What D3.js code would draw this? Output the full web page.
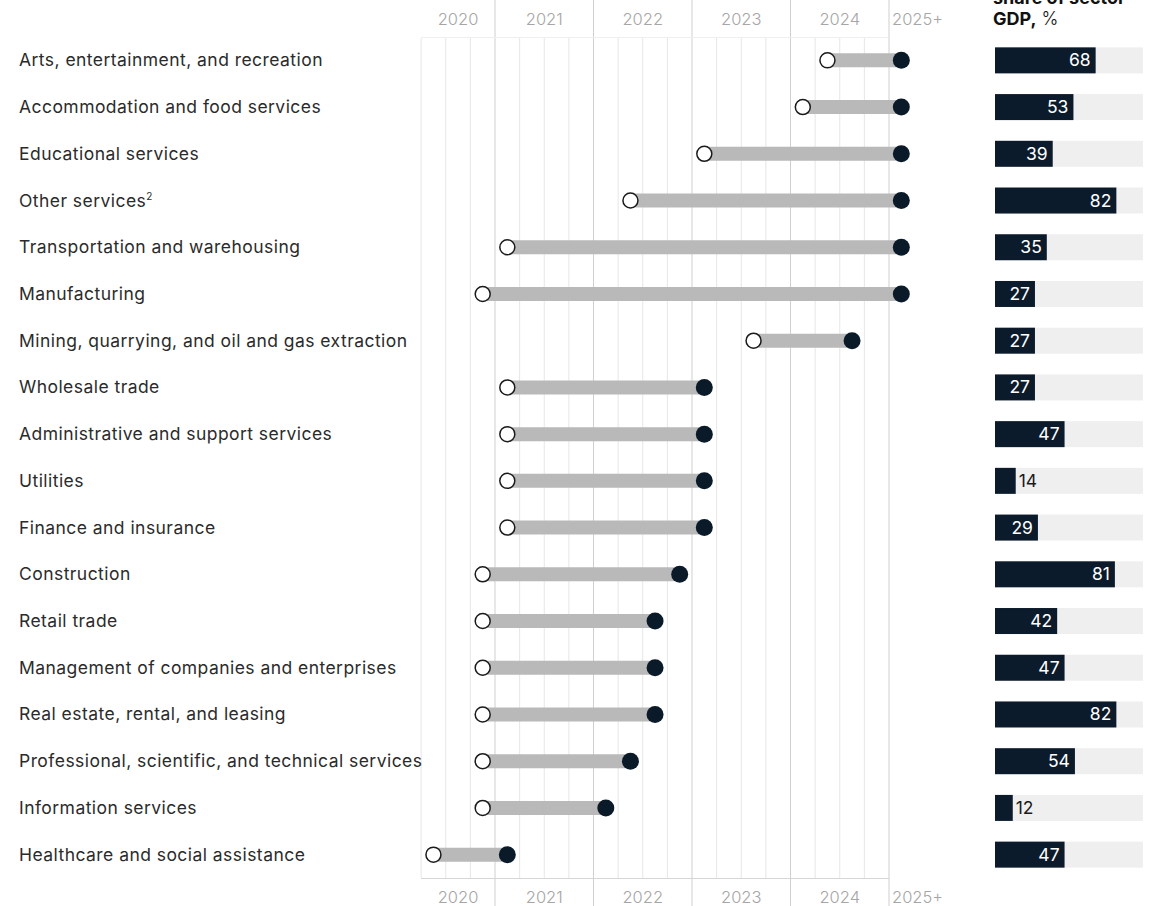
<!DOCTYPE html>
<html>
<head>
<meta charset="utf-8">
<script src="https://cdn.jsdelivr.net/npm/d3@7"></script>
<style>
  html, body { margin: 0; padding: 0; background: #fff; }
  svg { display: block; }
  text { font-family: Inter, "Liberation Sans", Arial, sans-serif; }
</style>
</head>
<body>
<svg id="chart" width="1171" height="906"></svg>
<script>
// ---- data ----
const sectors = [
  "Arts, entertainment, and recreation",
  "Accommodation and food services",
  "Educational services",
  "Other services",
  "Transportation and warehousing",
  "Manufacturing",
  "Mining, quarrying, and oil and gas extraction",
  "Wholesale trade",
  "Administrative and support services",
  "Utilities",
  "Finance and insurance",
  "Construction",
  "Retail trade",
  "Management of companies and enterprises",
  "Real estate, rental, and leasing",
  "Professional, scientific, and technical services",
  "Information services",
  "Healthcare and social assistance"
];
const footnotes = ["", "", "", "2", "", "", "", "", "", "", "", "", "", "", "", "", "", ""];
// start / end quarter; 2025Q1 stands for "2025+"
const startQuarter = [
  "2024Q2", "2024Q1", "2023Q1", "2022Q2", "2021Q1", "2020Q4", "2023Q3", "2021Q1", "2021Q1",
  "2021Q1", "2021Q1", "2020Q4", "2020Q4", "2020Q4", "2020Q4", "2020Q4", "2020Q4", "2020Q2"
];
const endQuarter = [
  "2025Q1", "2025Q1", "2025Q1", "2025Q1", "2025Q1", "2025Q1", "2024Q3", "2023Q1", "2023Q1",
  "2023Q1", "2023Q1", "2022Q4", "2022Q3", "2022Q3", "2022Q3", "2022Q2", "2022Q1", "2021Q1"
];
const gdpShare = [68, 53, 39, 82, 35, 27, 27, 27, 47, 14, 29, 81, 42, 47, 82, 54, 12, 47];
const yearLabels = ["2020", "2021", "2022", "2023", "2024", "2025+"];
const yearStarts = [2020.25, 2021, 2022, 2023, 2024, 2025];
const yearEnds = [2021, 2022, 2023, 2024, 2025, 2025.72];

// ---- layout ----
const svg = d3.select("#chart");
const W = 1171, H = 906;
const x = d3.scaleLinear().domain([2020, 2025]).range([396.5, 889]);
const y = d3.scaleBand().domain(sectors).range([37, 878]).paddingInner(0);
const cy = d => y(d) + y.bandwidth() / 2;
const barX = d3.scaleLinear().domain([0, 100]).range([995, 1143]);

const qVal = s => +s.slice(0, 4) + (+s.slice(5) - 1) / 4 + 0.125;

// grid: quarter lines
const quarterTicks = d3.range(2020.25, 2025.001, 0.25).filter(v => v % 1 !== 0);
svg.append("g").selectAll("line").data(quarterTicks).join("line")
  .attr("x1", d => x(d)).attr("x2", d => x(d))
  .attr("y1", 38).attr("y2", 878)
  .attr("stroke", "#e6e6e6").attr("stroke-width", 1);

// year lines
const yearTicks = [2021, 2022, 2023, 2024, 2025];
svg.append("g").selectAll("line").data(yearTicks).join("line")
  .attr("x1", d => x(d)).attr("x2", d => x(d))
  .attr("y1", 0).attr("y2", H)
  .attr("stroke", "#cfcfcf").attr("stroke-width", 1);

// top and bottom rules
svg.append("line").attr("x1", x(2020.25)).attr("x2", x(2025)).attr("y1", 37.5).attr("y2", 37.5)
  .attr("stroke", "#efefef");
svg.append("line").attr("x1", x(2020.25)).attr("x2", x(2025)).attr("y1", 878.5).attr("y2", 878.5)
  .attr("stroke", "#d6d6d6");

// year labels (top and bottom)
[25, 903].forEach(yy => {
  svg.append("g").selectAll("text").data(yearLabels).join("text")
    .attr("x", (d, i) => i === 5 ? x(2025) + 3 : x((yearStarts[i] + yearEnds[i]) / 2))
    .attr("y", yy)
    .attr("text-anchor", (d, i) => i === 5 ? "start" : "middle")
    .attr("font-size", 16.5)
    .attr("font-weight", 300)
    .attr("fill", "#a6a6a6")
    .text(d => d);
});

// row labels
const lab = svg.append("g").selectAll("text").data(sectors).join("text")
  .attr("x", 19).attr("y", d => cy(d) + 6)
  .attr("font-size", 17.5).attr("font-weight", 400).attr("fill", "#2b2b2b")
  .attr("letter-spacing", 0.45);
lab.append("tspan").text(d => d);
lab.append("tspan").attr("font-size", 10).attr("dy", -7).text((d, i) => footnotes[i]);

// range segments
const rows = sectors.map((s, i) => ({ s, a: qVal(startQuarter[i]), b: qVal(endQuarter[i]), v: gdpShare[i] }));
svg.append("g").selectAll("line").data(rows).join("line")
  .attr("x1", d => x(d.a)).attr("x2", d => x(d.b))
  .attr("y1", d => cy(d.s)).attr("y2", d => cy(d.s))
  .attr("stroke", "#b9b9b9").attr("stroke-width", 14);

svg.append("g").selectAll("circle").data(rows).join("circle")
  .attr("cx", d => x(d.b)).attr("cy", d => cy(d.s)).attr("r", 8.5)
  .attr("fill", "#0b1a29");
svg.append("g").selectAll("circle").data(rows).join("circle")
  .attr("cx", d => x(d.a)).attr("cy", d => cy(d.s)).attr("r", 7.5)
  .attr("fill", "#fff").attr("stroke", "#1a1a1a").attr("stroke-width", 1.5);

// right header
const hdr = svg.append("g");
hdr.append("text").attr("x", 993).attr("y", 4).attr("font-size", 18).attr("font-weight", "bold")
  .attr("fill", "#111").text("share of sector");
const h2 = hdr.append("text").attr("x", 993).attr("y", 25).attr("font-size", 18).attr("fill", "#111");
h2.append("tspan").attr("font-weight", "bold").text("GDP,");
h2.append("tspan").attr("font-weight", 300).text(" %");

// share bars
const bh = 26;
svg.append("g").selectAll("rect").data(rows).join("rect")
  .attr("x", barX(0)).attr("y", d => cy(d.s) - bh / 2)
  .attr("width", barX(100) - barX(0)).attr("height", bh)
  .attr("fill", "#efefef");
svg.append("g").selectAll("rect").data(rows).join("rect")
  .attr("x", barX(0)).attr("y", d => cy(d.s) - bh / 2)
  .attr("width", d => barX(d.v) - barX(0)).attr("height", bh)
  .attr("fill", "#0c1b2b");
svg.append("g").selectAll("text").data(rows).join("text")
  .attr("x", d => d.v < 20 ? barX(d.v) + 3 : barX(d.v) - 5)
  .attr("y", d => cy(d.s) + 6)
  .attr("text-anchor", d => d.v < 20 ? "start" : "end")
  .attr("font-size", 17.5)
  .attr("fill", d => d.v < 20 ? "#1a1a1a" : "#fff")
  .text(d => d.v);
</script>
</body>
</html>
